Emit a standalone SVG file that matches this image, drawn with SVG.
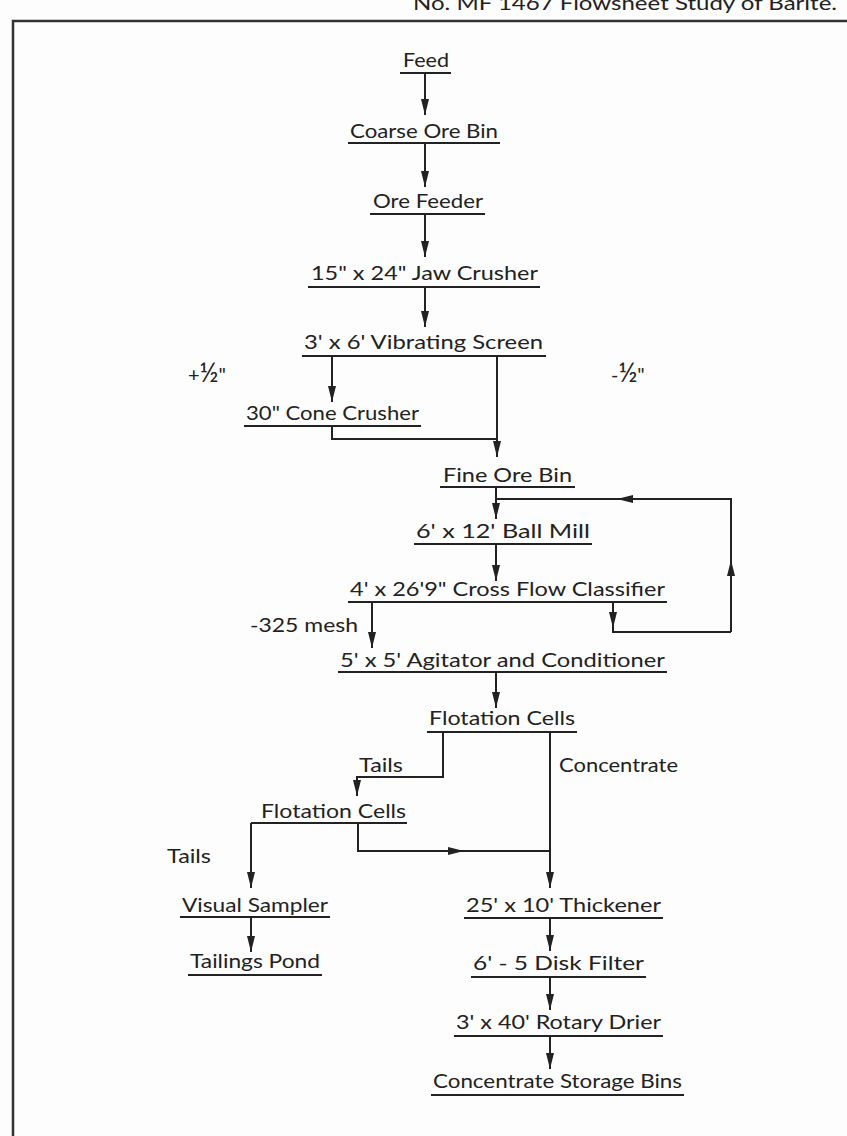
<svg xmlns="http://www.w3.org/2000/svg" width="847" height="1136" viewBox="0 0 847 1136">
<style>
.t{font-family:Lato,"Liberation Sans",sans-serif;font-size:20px;fill:#222}
.u{stroke:#222;stroke-width:2}
.c{stroke:#222;stroke-width:2;fill:none}
.f{stroke:#333;stroke-width:2.5;fill:none}
</style>
<defs>
<marker id="ah" viewBox="0 0 16 8" refX="16" refY="4" markerWidth="16" markerHeight="8" orient="auto" markerUnits="userSpaceOnUse"><path d="M0,0 L16,4 L0,8 z" fill="#222"/></marker>
</defs>
<rect width="847" height="1136" fill="#fdfdfd"/>
<text class="t" x="413" y="10" font-size="21" textLength="424" lengthAdjust="spacingAndGlyphs">No. MF 1467   Flowsheet Study of Barite.</text>
<path class="f" d="M13,1136 V21 H847"/>

<g id="connectors">
<path class="c" d="M425,73 V115" marker-end="url(#ah)"/>
<path class="c" d="M425,143 V187" marker-end="url(#ah)"/>
<path class="c" d="M425,214 V257" marker-end="url(#ah)"/>
<path class="c" d="M425,287 V327" marker-end="url(#ah)"/>
<path class="c" d="M332,356 V402" marker-end="url(#ah)"/>
<path class="c" d="M497,356 V457" marker-end="url(#ah)"/>
<path class="c" d="M332,426 V439 H497"/>
<path class="c" d="M496,487 V519" marker-end="url(#ah)"/>
<path class="c" d="M496,544 V581" marker-end="url(#ah)"/>
<path class="c" d="M731,632 V499 H496"/>
<path class="c" d="M731,590 V560" marker-end="url(#ah)"/>
<path class="c" d="M650,499 H617" marker-end="url(#ah)"/>
<path class="c" d="M613,602 V632 H731"/>
<path class="c" d="M613,602 V628" marker-end="url(#ah)"/>
<path class="c" d="M372,602 V648" marker-end="url(#ah)"/>
<path class="c" d="M496,672 V708" marker-end="url(#ah)"/>
<path class="c" d="M443,732 V777 H357 V796" marker-end="url(#ah)"/>
<path class="c" d="M550,732 V888" marker-end="url(#ah)"/>
<path class="c" d="M251,823 V888" marker-end="url(#ah)"/>
<path class="c" d="M358,823 V851 H550"/>
<path class="c" d="M440,851 H464" marker-end="url(#ah)"/>
<path class="c" d="M251,917 V952" marker-end="url(#ah)"/>
<path class="c" d="M550,918 V951" marker-end="url(#ah)"/>
<path class="c" d="M550,977 V1010" marker-end="url(#ah)"/>
<path class="c" d="M550,1036 V1069" marker-end="url(#ah)"/>
</g>

<g id="feed"><text class="t" x="403" y="67" textLength="46" lengthAdjust="spacingAndGlyphs">Feed</text><line class="u" x1="400" y1="73" x2="451" y2="73"/></g>
<g id="coarse-ore-bin"><text class="t" x="350" y="138" textLength="148" lengthAdjust="spacingAndGlyphs">Coarse Ore Bin</text><line class="u" x1="348" y1="143" x2="500" y2="143"/></g>
<g id="ore-feeder"><text class="t" x="373" y="208" textLength="110" lengthAdjust="spacingAndGlyphs">Ore Feeder</text><line class="u" x1="370" y1="214" x2="485" y2="214"/></g>
<g id="jaw-crusher"><text class="t" x="311" y="280" textLength="227" lengthAdjust="spacingAndGlyphs">15" x 24" Jaw Crusher</text><line class="u" x1="308" y1="287" x2="540" y2="287"/></g>
<g id="vibrating-screen"><text class="t" x="304" y="349" textLength="239" lengthAdjust="spacingAndGlyphs">3' x 6' Vibrating Screen</text><line class="u" x1="302" y1="356" x2="546" y2="356"/></g>
<g id="label-plus"><text class="t" x="188" y="382">+<tspan font-size="26">½</tspan>"</text></g>
<g id="label-minus"><text class="t" x="611" y="382">-<tspan font-size="26">½</tspan>"</text></g>
<g id="cone-crusher"><text class="t" x="246" y="420" textLength="173" lengthAdjust="spacingAndGlyphs">30" Cone Crusher</text><line class="u" x1="244" y1="426" x2="421" y2="426"/></g>
<g id="fine-ore-bin"><text class="t" x="443" y="482" textLength="129" lengthAdjust="spacingAndGlyphs">Fine Ore Bin</text><line class="u" x1="440" y1="487" x2="575" y2="487"/></g>
<g id="ball-mill"><text class="t" x="416" y="538" textLength="174" lengthAdjust="spacingAndGlyphs">6' x 12' Ball Mill</text><line class="u" x1="414" y1="544" x2="592" y2="544"/></g>
<g id="classifier"><text class="t" x="350" y="596" textLength="315" lengthAdjust="spacingAndGlyphs">4' x 26'9" Cross Flow Classifier</text><line class="u" x1="348" y1="602" x2="667" y2="602"/></g>
<g id="label-mesh"><text class="t" x="250" y="632" textLength="108" lengthAdjust="spacingAndGlyphs">-325 mesh</text></g>
<g id="agitator"><text class="t" x="340" y="667" textLength="325" lengthAdjust="spacingAndGlyphs">5' x 5' Agitator and Conditioner</text><line class="u" x1="338" y1="672" x2="667" y2="672"/></g>
<g id="flotation-1"><text class="t" x="429" y="725" textLength="146" lengthAdjust="spacingAndGlyphs">Flotation Cells</text><line class="u" x1="427" y1="732" x2="577" y2="732"/></g>
<g id="label-tails-1"><text class="t" x="359" y="772" textLength="44" lengthAdjust="spacingAndGlyphs">Tails</text></g>
<g id="label-concentrate"><text class="t" x="559" y="772" textLength="119" lengthAdjust="spacingAndGlyphs">Concentrate</text></g>
<g id="flotation-2"><text class="t" x="261" y="818" textLength="145" lengthAdjust="spacingAndGlyphs">Flotation Cells</text><line class="u" x1="251" y1="823" x2="407" y2="823"/></g>
<g id="label-tails-2"><text class="t" x="167" y="863" textLength="44" lengthAdjust="spacingAndGlyphs">Tails</text></g>
<g id="visual-sampler"><text class="t" x="182" y="912" textLength="146" lengthAdjust="spacingAndGlyphs">Visual Sampler</text><line class="u" x1="180" y1="917" x2="330" y2="917"/></g>
<g id="tailings-pond"><text class="t" x="190" y="968" textLength="130" lengthAdjust="spacingAndGlyphs">Tailings Pond</text><line class="u" x1="188" y1="975" x2="322" y2="975"/></g>
<g id="thickener"><text class="t" x="466" y="912" textLength="195" lengthAdjust="spacingAndGlyphs">25' x 10' Thickener</text><line class="u" x1="464" y1="918" x2="663" y2="918"/></g>
<g id="disk-filter"><text class="t" x="473" y="970" textLength="171" lengthAdjust="spacingAndGlyphs">6' - 5 Disk Filter</text><line class="u" x1="471" y1="977" x2="646" y2="977"/></g>
<g id="rotary-drier"><text class="t" x="456" y="1029" textLength="205" lengthAdjust="spacingAndGlyphs">3' x 40' Rotary Drier</text><line class="u" x1="454" y1="1036" x2="663" y2="1036"/></g>
<g id="storage-bins"><text class="t" x="433" y="1088" textLength="249" lengthAdjust="spacingAndGlyphs">Concentrate Storage Bins</text><line class="u" x1="431" y1="1095" x2="684" y2="1095" stroke-width="2.5"/></g>
</svg>
